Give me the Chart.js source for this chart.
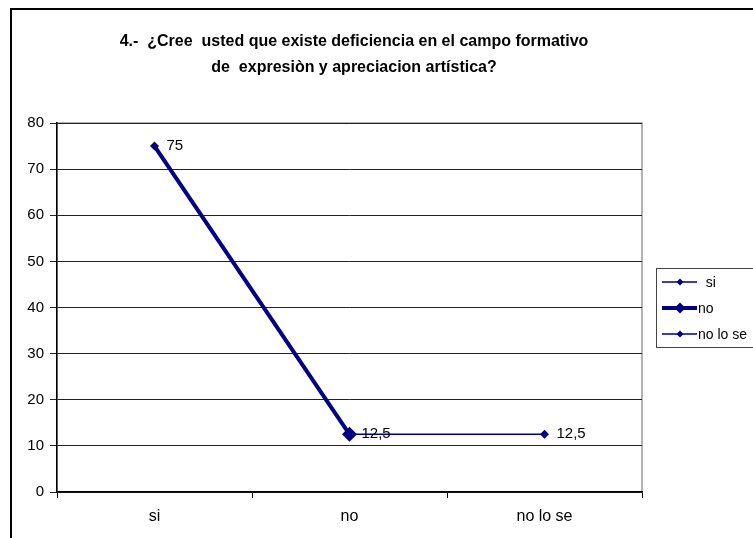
<!DOCTYPE html>
<html>
<head>
<meta charset="utf-8">
<script src="https://cdn.jsdelivr.net/npm/chart.js@4/dist/chart.umd.min.js"></script>
<style>
  html, body { margin: 0; padding: 0; background: #fff; }
  #wrap { width: 753px; height: 538px; }
</style>
</head>
<body>
<div id="wrap"><canvas id="grafico" width="753" height="538"></canvas></div>
<script>
// dati del grafico
var categorie = ['si', 'no', 'no lo se'];
var valori = [75, 12.5, 12.5];
var tick_y = [0, 10, 20, 30, 40, 50, 60, 70, 80];
var titolo = ['4.-  ¿Cree  usted que existe deficiencia en el campo formativo', 'de  expresiòn y apreciacion artística?'];

var blu = '#000080';
var font_base = '"Liberation Sans", Arial, sans-serif';

// spessore della linea e grandezza dei punti per ogni categoria
var spessori = [1.5, 4, 1.5];
var raggi = [4.5, 7.5, 4.5];

function formatta(v) {
  return String(v).replace('.', ',');
}

// disegno cornice, titolo, bordo area e legenda
var decorazioni = {
  id: 'decorazioni',
  beforeDraw: function(chart) {
    var ctx = chart.ctx;
    var area = chart.chartArea;
    ctx.save();
    ctx.fillStyle = '#fff';
    ctx.fillRect(0, 0, chart.width, chart.height);
    // cornice esterna
    ctx.strokeStyle = '#000';
    ctx.lineWidth = 2;
    ctx.strokeRect(11, 9, 900, 700);
    // titolo
    ctx.fillStyle = '#000';
    ctx.font = 'bold 16px ' + font_base;
    ctx.textAlign = 'center';
    ctx.textBaseline = 'middle';
    ctx.fillText(titolo[0], 354, 42);
    ctx.fillText(titolo[1], 354, 68);
    // bordo grigio dell'area
    ctx.strokeStyle = '#999';
    ctx.lineWidth = 1.5;
    ctx.strokeRect(area.left, area.top, area.right - area.left, area.bottom - area.top);
    ctx.restore();
  },
  afterDraw: function(chart) {
    var ctx = chart.ctx;
    var meta = chart.getDatasetMeta(0);
    ctx.save();
    // etichette dei valori
    ctx.fillStyle = '#000';
    ctx.font = '15px ' + font_base;
    ctx.textAlign = 'left';
    ctx.textBaseline = 'middle';
    for (var i = 0; i < meta.data.length; i++) {
      var p = meta.data[i];
      ctx.fillText(formatta(valori[i]), p.x + 12, p.y);
    }
    // legenda
    ctx.strokeStyle = '#444';
    ctx.lineWidth = 1;
    ctx.strokeRect(656.5, 268.5, 140, 79);
    var righe = [282, 308, 334];
    for (var j = 0; j < categorie.length; j++) {
      var y = righe[j];
      ctx.strokeStyle = blu;
      ctx.lineWidth = spessori[j];
      ctx.beginPath();
      ctx.moveTo(662, y);
      ctx.lineTo(697, y);
      ctx.stroke();
      var r = j == 1 ? 5.5 : 3.5;
      ctx.fillStyle = blu;
      ctx.beginPath();
      ctx.moveTo(680, y - r);
      ctx.lineTo(680 + r, y);
      ctx.lineTo(680, y + r);
      ctx.lineTo(680 - r, y);
      ctx.closePath();
      ctx.fill();
      ctx.fillStyle = '#000';
      ctx.font = '14px ' + font_base;
      ctx.fillText(j == 0 ? '  ' + categorie[j] : categorie[j], 698, y + 1);
    }
    ctx.restore();
  }
};

var grafico = new Chart(document.getElementById('grafico'), {
  type: 'line',
  data: {
    labels: categorie,
    datasets: [{
      label: 'serie',
      data: valori,
      borderColor: blu,
      backgroundColor: blu,
      borderWidth: 1.5,
      pointStyle: 'rectRot',
      pointRadius: raggi,
      pointBackgroundColor: blu,
      pointBorderColor: blu,
      pointBorderWidth: 0,
      tension: 0,
      fill: false,
      segment: {
        borderWidth: function(c) { return spessori[c.p1DataIndex]; }
      }
    }]
  },
  options: {
    responsive: false,
    animation: false,
    layout: { padding: { left: 0, top: 123, right: 111, bottom: 0 } },
    plugins: {
      legend: { display: false },
      title: { display: false },
      tooltip: { enabled: false }
    },
    scales: {
      x: {
        offset: true,
        grid: {
          offset: true,
          drawOnChartArea: false,
          drawTicks: true,
          tickLength: 6,
          color: '#000'
        },
        border: { color: '#000', width: 1.5 },
        ticks: {
          color: '#000',
          font: { family: font_base, size: 16 },
          padding: 9
        },
        afterFit: function(s) { s.height = 46; }
      },
      y: {
        min: 0,
        max: 80,
        afterBuildTicks: function(s) {
          s.ticks = tick_y.map(function(v) { return { value: v }; });
        },
        grid: {
          color: '#222',
          lineWidth: 1,
          drawTicks: true,
          tickLength: 7
        },
        border: { color: '#000', width: 1.5 },
        ticks: {
          color: '#000',
          font: { family: font_base, size: 15 },
          padding: 6
        },
        afterFit: function(s) { s.width = 57; }
      }
    }
  },
  plugins: [decorazioni]
});
</script>
</body>
</html>
